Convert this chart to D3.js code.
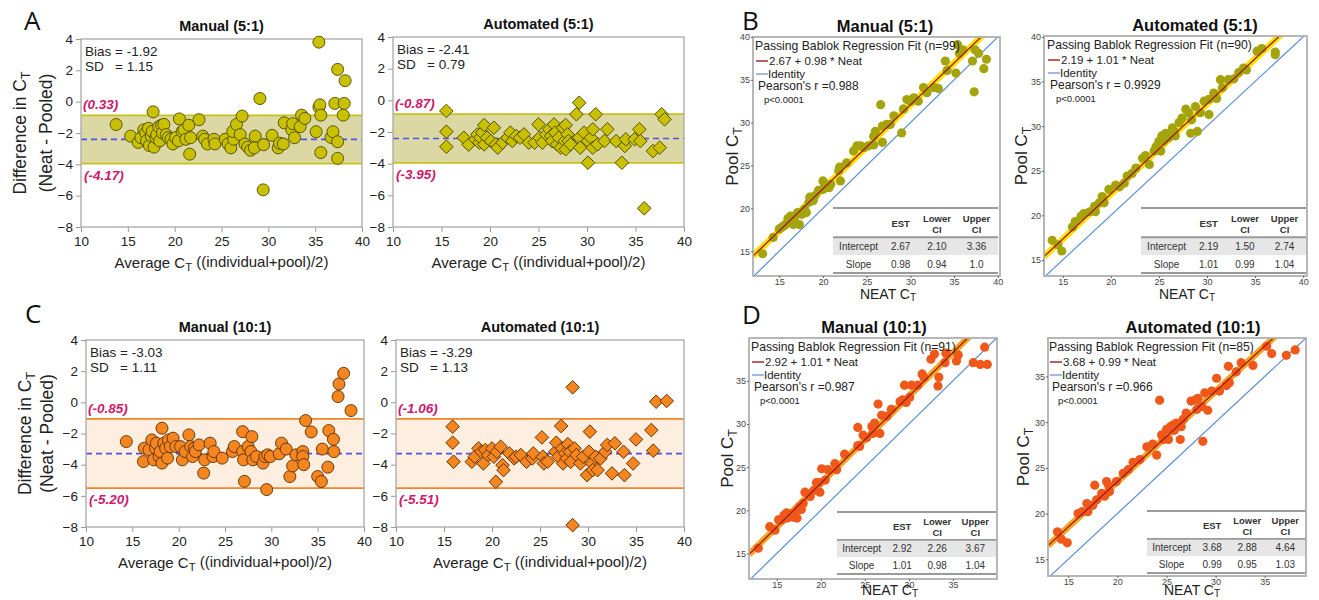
<!DOCTYPE html>
<html>
<head>
<meta charset="utf-8">
<script src="https://cdn.jsdelivr.net/npm/d3@7"></script>
<style>
body { margin: 0; background: #fff; }
svg { font-family: "Liberation Sans", Arial, sans-serif; }
</style>
</head>
<body>
<svg id="fig" width="1319" height="600"></svg>
<script>
// ---- data ----
var baXTicks = [10, 15, 20, 25, 30, 35, 40];
var baYTicks = [4, 2, 0, -2, -4, -6, -8];

// Bland-Altman: [average Ct, difference]
var manual5Diff = [[13.75,-1.46],[15.3,-2.2],[16.1,-2.6],[16.4,-2.3],[16.7,-1.8],[16.9,-2.0],[17.0,-2.5],[17.2,-1.7],[17.3,-2.8],[17.5,-2.2],[17.6,-1.9],[17.7,-0.65],[17.8,-2.9],[18.0,-2.3],[18.1,-2.1],[18.3,-1.6],[18.4,-2.5],[18.6,-1.5],[18.7,-2.0],[18.85,-1.45],[19.1,-2.1],[19.3,-2.3],[19.6,-2.4],[19.8,-2.7],[20.1,-2.3],[20.4,-2.5],[20.5,-1.1],[20.8,-1.9],[21.0,-1.8],[21.2,-2.4],[21.5,-1.5],[21.6,-3.35],[21.7,-2.3],[22.6,-1.15],[23.0,-2.2],[23.2,-2.4],[23.5,-2.7],[24.2,-2.4],[24.3,-2.7],[25.4,-2.4],[25.7,-2.7],[26.0,-2.95],[26.3,-2.4],[26.2,-1.9],[26.6,-1.45],[27.2,-0.92],[27.0,-2.1],[27.5,-2.7],[27.8,-2.9],[28.1,-3.1],[28.6,-2.2],[28.5,-2.95],[29.1,0.2],[29.5,-2.75],[29.45,-5.63],[30.4,-2.15],[31.05,-2.95],[31.2,-2.65],[31.6,-2.7],[31.7,-1.35],[32.5,-1.8],[32.6,-1.4],[32.8,-2.3],[33.4,-1.6],[33.55,-0.86],[33.9,-1.07],[35.1,-1.92],[35.4,-0.35],[35.5,-0.2],[35.6,-0.86],[35.6,-3.25],[35.4,3.8],[36.7,-2.28],[36.9,-1.92],[37.1,-0.11],[37.4,2.06],[37.4,-2.56],[37.4,-3.62],[38.0,-0.86],[38.1,-0.11],[38.2,1.34]];
var auto5Diff = [[15.5,-0.67],[15.5,-1.98],[15.5,-2.93],[17.3,-2.36],[17.8,-2.8],[18.5,-2.46],[18.7,-2.15],[18.9,-2.67],[19.0,-2.36],[19.2,-2.04],[19.4,-1.56],[19.4,-2.78],[19.7,-2.36],[20.1,-2.57],[20.4,-1.73],[20.6,-2.78],[20.8,-2.99],[21.3,-2.67],[21.8,-2.36],[22.1,-2.04],[22.3,-2.57],[22.7,-2.25],[23.1,-2.36],[23.5,-2.15],[24.0,-2.67],[24.6,-2.67],[25.0,-1.52],[25.1,-2.36],[25.4,-2.67],[25.8,-2.15],[26.1,-1.83],[26.3,-2.25],[26.4,-2.57],[26.6,-1.52],[26.7,-2.04],[26.9,-2.78],[27.1,-2.36],[27.3,-2.99],[27.5,-1.73],[27.7,-2.57],[27.8,-1.56],[27.8,-3.09],[28.0,-2.15],[28.1,-2.57],[28.3,-2.78],[28.9,-0.88],[29.2,-0.15],[29.2,-2.36],[29.3,-2.99],[29.7,-2.04],[30.1,-2.57],[30.1,-3.94],[30.4,-2.36],[30.6,-1.83],[30.6,-2.99],[30.9,-0.88],[31.1,-2.78],[31.8,-2.57],[32.1,-1.83],[33.0,-2.57],[33.6,-3.94],[33.9,-2.88],[34.0,-2.46],[34.9,-2.46],[35.4,-1.83],[35.5,-2.57],[35.9,-6.82],[36.8,-3.2],[37.5,-2.99],[37.7,-0.88],[38.0,-1.2]];
var manual10Diff = [[14.35,-2.52],[16.2,-3.8],[16.3,-2.94],[16.8,-3.05],[17.1,-2.41],[17.3,-3.69],[17.5,-2.94],[17.6,-2.62],[17.9,-3.48],[18.0,-3.16],[18.2,-1.66],[18.2,-3.9],[18.4,-2.62],[18.6,-2.94],[18.8,-3.58],[18.9,-2.41],[19.1,-2.84],[19.4,-2.3],[19.7,-2.84],[20.2,-2.84],[20.4,-3.69],[20.7,-3.16],[21.1,-2.09],[21.3,-2.84],[21.5,-3.48],[21.7,-2.94],[21.8,-3.16],[22.2,-2.73],[22.7,-4.54],[22.8,-3.69],[23.4,-2.62],[23.7,-3.48],[23.8,-3.16],[24.7,-3.58],[25.8,-3.16],[26.0,-2.84],[26.9,-1.88],[26.9,-3.16],[27.0,-3.69],[27.1,-5.07],[27.5,-2.84],[27.8,-3.16],[27.9,-2.2],[28.0,-3.69],[28.4,-3.48],[29.1,-3.9],[29.3,-3.48],[29.5,-5.6],[29.6,-3.37],[29.9,-3.48],[30.85,-3.3],[31.1,-2.62],[31.6,-3.0],[32.0,-4.76],[32.3,-4.08],[32.65,-3.37],[33.4,-3.16],[33.4,-3.48],[33.5,-4.0],[33.7,-1.17],[34.3,-1.9],[35.0,-4.76],[35.4,-5.08],[35.5,-3.0],[36.1,-4.16],[36.2,-1.81],[36.7,-2.37],[36.75,-3.16],[37.2,0.37],[37.3,1.18],[37.8,1.86],[38.6,-0.53]];
var auto10Diff = [[15.9,-1.56],[15.9,-2.59],[16.0,-3.81],[17.9,-3.81],[18.2,-3.49],[18.6,-2.96],[18.9,-3.17],[19.1,-3.92],[19.3,-3.06],[19.6,-3.38],[20.0,-2.96],[20.2,-3.49],[20.4,-5.1],[20.5,-3.17],[20.9,-2.85],[21.1,-4.03],[21.2,-4.35],[21.8,-3.28],[22.3,-3.6],[22.5,-3.49],[23.0,-3.38],[23.6,-3.81],[24.2,-3.6],[24.3,-3.28],[25.2,-2.25],[25.3,-3.49],[25.4,-3.92],[25.8,-3.81],[26.6,-3.17],[26.7,-2.59],[26.9,-3.49],[27.2,-1.52],[27.3,-2.96],[27.4,-3.92],[27.6,-3.28],[27.8,-3.6],[27.9,-2.68],[28.1,-3.17],[28.2,-3.81],[28.4,0.96],[28.4,-7.88],[28.6,-2.96],[28.8,-3.38],[29.2,-3.92],[29.5,-3.49],[29.9,-4.67],[30.1,-3.17],[30.2,-1.88],[30.4,-3.92],[30.5,-4.35],[30.8,-3.49],[31.0,-4.35],[31.3,-3.6],[31.8,-3.17],[32.0,-2.74],[32.5,-4.56],[32.8,-2.63],[33.7,-3.17],[33.8,-4.67],[34.7,-3.92],[35.0,-2.38],[36.6,-1.78],[36.8,-3.1],[37.1,0.04],[38.2,0.09]];

var baTitles = ["Manual (5:1)", "Automated (5:1)", "Manual (10:1)", "Automated (10:1)"];
var baBias = ["-1.92", "-2.41", "-3.03", "-3.29"];
var baSD = ["1.15", "0.79", "1.11", "1.13"];
var baUpperLabel = ["(0.33)", "(-0.87)", "(-0.85)", "(-1.06)"];
var baLowerLabel = ["(-4.17)", "(-3.95)", "(-5.20)", "(-5.51)"];
// band edges and mean line as drawn: [upper, lower, mean]
var baBand = [[-0.87, -3.95, -2.41], [-0.87, -3.95, -2.41], [-1.06, -5.51, -3.29], [-1.06, -5.51, -3.29]];

// Passing-Bablok: [neat Ct, pool Ct]
var manual5Pool = [[13.1,14.7],[14.3,16.6],[15.0,17.6],[15.3,17.8],[15.6,18.0],[15.8,18.2],[16.0,18.8],[16.2,18.4],[16.3,19.1],[16.6,18.1],[16.8,19.0],[17.1,19.5],[17.3,18.1],[17.6,19.3],[17.9,19.9],[18.1,19.5],[18.4,20.7],[18.5,21.3],[18.9,20.9],[19.1,21.5],[19.5,22.1],[20.0,23.2],[20.0,22.2],[20.2,22.6],[20.7,22.4],[20.9,22.8],[22.0,23.2],[21.8,24.4],[21.9,24.8],[22.7,25.3],[23.5,26.7],[23.9,27.3],[24.3,27.3],[24.7,27.1],[25.2,27.3],[25.8,28.4],[26.0,29.0],[25.8,27.4],[26.6,32.1],[26.8,29.6],[26.8,27.7],[27.3,29.8],[27.7,29.8],[28.1,30.8],[29.0,28.8],[29.2,31.6],[29.6,32.7],[30.0,32.5],[30.4,32.9],[30.9,32.5],[31.5,34.1],[31.9,33.5],[32.7,34.1],[33.2,34.0],[34.0,37.2],[34.2,36.1],[35.2,35.8],[35.4,39.1],[35.6,38.1],[36.0,38.5],[37.1,37.2],[37.3,33.6],[37.4,38.5],[37.8,38.1],[38.4,36.3],[38.7,37.4]];
var auto5Pool = [[13.9,17.2],[14.5,16.7],[14.9,16.0],[16.0,18.7],[16.3,19.3],[16.9,19.9],[17.2,20.2],[17.8,20.4],[18.3,21.0],[18.4,20.4],[18.8,21.4],[19.1,22.1],[19.3,21.4],[19.8,22.9],[20.5,23.4],[20.9,23.2],[21.4,23.6],[21.7,24.4],[22.2,24.7],[22.6,25.3],[23.3,26.4],[23.6,26.7],[24.0,25.7],[24.5,27.2],[24.7,27.7],[25.0,28.3],[25.2,27.2],[25.3,28.9],[25.5,28.3],[25.7,29.2],[26.0,28.7],[26.4,29.8],[26.6,29.4],[26.7,28.9],[27.1,30.4],[27.4,30.9],[27.8,31.9],[28.1,31.5],[28.3,29.2],[28.4,30.7],[28.8,32.2],[29.0,29.4],[29.3,31.5],[29.7,32.8],[30.2,33.0],[30.2,31.3],[30.7,33.7],[31.0,33.1],[31.4,35.2],[31.6,34.3],[32.2,35.2],[32.8,35.3],[33.3,36.0],[33.8,36.5],[34.1,36.3],[35.2,38.4],[35.7,38.7],[37.1,38.3],[37.1,38.0]];
var manual10Pool = [[12.9,15.6],[14.2,18.1],[14.8,17.7],[15.2,18.9],[15.6,18.9],[15.8,19.4],[16.1,19.7],[16.2,19.1],[16.5,19.6],[16.9,19.2],[17.3,20.0],[17.3,19.1],[17.6,20.4],[17.8,20.1],[18.0,20.8],[18.2,22.1],[18.6,21.9],[18.8,21.6],[19.2,22.3],[19.5,23.2],[19.8,23.2],[19.9,22.1],[20.1,24.8],[20.5,23.5],[20.8,24.7],[21.6,25.4],[21.8,24.7],[22.7,26.5],[24.2,29.6],[24.2,27.5],[24.4,27.4],[24.8,28.7],[25.2,28.4],[25.8,29.7],[25.9,28.9],[26.1,30.1],[26.5,32.3],[26.7,28.9],[26.9,31.0],[27.5,30.9],[28.0,31.7],[29.0,32.6],[29.3,32.8],[29.5,34.5],[29.7,32.5],[30.1,33.1],[30.3,34.5],[31.0,34.5],[31.5,35.8],[31.7,35.4],[32.5,37.5],[32.9,38.1],[33.3,34.4],[33.4,35.4],[34.1,37.1],[34.2,38.2],[35.4,37.3],[35.6,38.0],[37.3,37.1],[38.1,36.9],[38.6,38.9],[38.9,36.9]];
var auto10Pool = [[13.9,18.0],[14.3,17.2],[14.9,16.8],[16.0,20.0],[16.4,20.2],[16.9,21.1],[17.0,20.2],[17.5,20.9],[17.7,23.1],[17.9,21.5],[18.4,22.2],[18.7,21.9],[18.9,23.5],[19.1,23.1],[19.2,22.4],[19.9,23.5],[20.6,24.4],[21.1,24.8],[21.6,25.6],[22.3,25.9],[23.0,27.3],[23.6,27.6],[24.0,26.4],[24.3,32.4],[24.5,28.6],[24.7,28.1],[25.0,29.2],[25.2,28.1],[25.4,29.5],[25.7,29.7],[25.8,29.1],[26.0,29.9],[26.4,28.1],[26.5,29.5],[26.7,30.3],[27.0,31.0],[27.5,32.3],[27.9,32.4],[28.1,31.4],[28.2,32.6],[28.6,31.7],[28.7,27.9],[28.9,33.2],[29.2,31.3],[29.6,33.4],[30.1,34.8],[30.4,33.4],[31.1,34.0],[31.3,36.1],[31.4,34.3],[32.1,35.5],[32.6,36.5],[33.8,36.2],[35.2,38.3],[35.7,37.5],[37.2,37.3],[38.1,37.9]];

var pbTitles = ["Manual (5:1)", "Automated (5:1)", "Manual (10:1)", "Automated (10:1)"];
var pbN = [99, 90, 91, 85];
var pbPearson = ["Pearson's r =0.988", "Pearson's r = 0.9929", "Pearson's r =0.987", "Pearson's r =0.966"];
var interceptEst = ["2.67", "2.19", "2.92", "3.68"];
var interceptLower = ["2.10", "1.50", "2.26", "2.88"];
var interceptUpper = ["3.36", "2.74", "3.67", "4.64"];
var slopeEst = ["0.98", "1.01", "1.01", "0.99"];
var slopeLower = ["0.94", "0.99", "0.98", "0.95"];
var slopeUpper = ["1.0", "1.04", "1.04", "1.03"];

var svg = d3.select("#fig");

function sub(sel, main, s, shift) {
	sel.append("tspan").text(main);
	sel.append("tspan").attr("font-size", "72%").attr("dy", shift || "0.32em").text(s);
}

// ---- Bland-Altman panel ----
function baPanel(o, i) {
	var x = d3.scaleLinear().domain([10, 40]).range([o.l, o.r]);
	var y = d3.scaleLinear().domain([-8, 4]).range([o.b, o.t]);
	var band = baBand[i];
	var g = svg.append("g");

	g.append("rect")
		.attr("x", o.l).attr("y", y(band[0]))
		.attr("width", o.r - o.l).attr("height", y(band[1]) - y(band[0]))
		.attr("fill", o.bandFill);
	g.selectAll(".lim").data(band.slice(0, 2)).enter().append("line")
		.attr("x1", o.l).attr("x2", o.r)
		.attr("y1", function (d) { return y(d); })
		.attr("y2", function (d) { return y(d); })
		.attr("stroke", o.bandLine).attr("stroke-width", 1.8);
	g.append("line")
		.attr("x1", o.l).attr("x2", o.r)
		.attr("y1", y(band[2])).attr("y2", y(band[2]))
		.attr("stroke", "#5050ee").attr("stroke-width", 1.6)
		.attr("stroke-dasharray", "6,4");

	// axes
	var ax = g.append("g").attr("transform", "translate(0," + o.b + ")")
		.call(d3.axisBottom(x).tickValues(baXTicks).tickSize(5).tickPadding(4));
	var ay = g.append("g").attr("transform", "translate(" + o.l + ",0)")
		.call(d3.axisLeft(y).tickValues(baYTicks).tickSize(5).tickPadding(3));
	[ax, ay].forEach(function (a) {
		a.select(".domain").remove();
		a.selectAll("line").attr("stroke", "#9a9a9a");
		a.selectAll("text").attr("fill", "#222").style("font-size", "13.5px")
			.style("font-family", "Liberation Sans, Arial, sans-serif");
	});
	g.append("rect").attr("x", o.l).attr("y", o.t)
		.attr("width", o.r - o.l).attr("height", o.b - o.t)
		.attr("fill", "none").attr("stroke", "#a8a8a8").attr("stroke-width", 1.3);

	// points
	var pts = g.selectAll(".pt").data(o.data).enter();
	if (o.shape === "diamond") {
		pts.append("path")
			.attr("d", d3.symbol().type(d3.symbolSquare).size(92))
			.attr("transform", function (d) { return "translate(" + x(d[0]) + "," + y(d[1]) + ") rotate(45)"; })
			.attr("fill", o.fill).attr("stroke", o.stroke).attr("stroke-width", 0.9);
	} else {
		pts.append("circle")
			.attr("cx", function (d) { return x(d[0]); })
			.attr("cy", function (d) { return y(d[1]); })
			.attr("r", 6)
			.attr("fill", o.fill).attr("stroke", o.stroke).attr("stroke-width", 0.9);
	}

	// texts
	g.append("text").attr("x", (o.l + o.r) / 2).attr("y", o.t - 8)
		.attr("text-anchor", "middle").attr("font-weight", "bold").attr("font-size", 14.5)
		.attr("fill", "#111").text(baTitles[i]);
	g.append("text").attr("x", o.l + 4).attr("y", o.t + 17).attr("font-size", 13.5).attr("fill", "#222")
		.text("Bias = " + baBias[i]);
	g.append("text").attr("x", o.l + 4).attr("y", o.t + 32).attr("font-size", 13.5).attr("fill", "#222")
		.style("white-space", "pre").text("SD   = " + baSD[i]);
	g.append("text").attr("x", o.l + 2).attr("y", y(band[0]) - 6)
		.attr("font-size", 13.5).attr("font-weight", "bold").attr("font-style", "italic")
		.attr("fill", "#d0186a").text(baUpperLabel[i]);
	g.append("text").attr("x", o.l + 3).attr("y", y(band[1]) + 16)
		.attr("font-size", 13.5).attr("font-weight", "bold").attr("font-style", "italic")
		.attr("fill", "#d0186a").text(baLowerLabel[i]);

	var xl = g.append("text").attr("x", (o.l + o.r) / 2).attr("y", o.b + 41)
		.attr("text-anchor", "middle").attr("font-size", 15).attr("fill", "#222");
	xl.append("tspan").text("Average C");
	xl.append("tspan").attr("font-size", "75%").attr("dy", "0.3em").text("T");
	xl.append("tspan").attr("dy", "-0.3em").text(" ((individual+pool)/2)");

	if (o.ylab) {
		var cy = (o.t + o.b) / 2;
		var l1 = g.append("text").attr("transform", "translate(" + o.ylab[0] + "," + cy + ") rotate(-90)")
			.attr("text-anchor", "middle").attr("dy", "0.35em").attr("font-size", 17.5).attr("fill", "#222");
		sub(l1, "Difference in C", "T");
		g.append("text").attr("transform", "translate(" + o.ylab[1] + "," + cy + ") rotate(-90)")
			.attr("text-anchor", "middle").attr("dy", "0.35em").attr("font-size", 17.5).attr("fill", "#222")
			.text("(Neat - Pooled)");
	}
}

// ---- Passing-Bablok panel ----
function pbPanel(o, i) {
	var x = d3.scaleLinear().domain(o.xd).range([o.l, o.r]);
	var y = d3.scaleLinear().domain(o.yd).range([o.b, o.t]);
	var a = +interceptEst[i], b = +slopeEst[i];
	var g = svg.append("g");

	g.append("clipPath").attr("id", "clip" + i).append("rect")
		.attr("x", o.l).attr("y", o.t).attr("width", o.r - o.l).attr("height", o.b - o.t);
	var inner = g.append("g").attr("clip-path", "url(#clip" + i + ")");

	var lo = Math.min(o.xd[0], o.yd[0]), hi = Math.max(o.xd[1], o.yd[1]);
	inner.append("line")
		.attr("x1", x(lo)).attr("y1", y(lo)).attr("x2", x(hi)).attr("y2", y(hi))
		.attr("stroke", "#5b8ed6").attr("stroke-width", 1.2);
	var fit = function (v) { return a + b * v; };
	inner.append("line")
		.attr("x1", x(o.xd[0])).attr("y1", y(fit(o.xd[0])))
		.attr("x2", x(o.xd[1])).attr("y2", y(fit(o.xd[1])))
		.attr("stroke", o.bandCol).attr("stroke-width", 6.5);
	inner.selectAll(".pt").data(o.data).enter().append("circle")
		.attr("cx", function (d) { return x(d[0]); })
		.attr("cy", function (d) { return y(d[1]); })
		.attr("r", 4.6).attr("fill", o.fill);
	inner.append("line")
		.attr("x1", x(o.xd[0])).attr("y1", y(fit(o.xd[0])))
		.attr("x2", x(o.xd[1])).attr("y2", y(fit(o.xd[1])))
		.attr("stroke", "#9e1a1a").attr("stroke-width", 1.3);

	// table
	var tw = o.tr - o.tl, th = o.tb - o.tt, hh = th * 0.45, rh = (th - hh) / 2;
	var cols = [0.155, 0.41, 0.63, 0.87].map(function (f) { return o.tl + f * tw; });
	g.append("rect").attr("x", o.tl).attr("y", o.tt).attr("width", tw).attr("height", o.b - o.tt).attr("fill", "#fff");
	g.append("rect").attr("x", o.tl).attr("y", o.tt + hh).attr("width", tw).attr("height", rh).attr("fill", "#e6e6e6");
	g.selectAll(".tl").data([o.tt, o.tt + hh, o.tb]).enter().append("line")
		.attr("x1", o.tl).attr("x2", o.tr)
		.attr("y1", function (d) { return d; }).attr("y2", function (d) { return d; })
		.attr("stroke", "#9a9a9a").attr("stroke-width", 1.8);
	var hd = g.append("g").attr("font-size", 9.5).attr("font-weight", "bold").attr("fill", "#333").attr("text-anchor", "middle");
	hd.append("text").attr("x", cols[1]).attr("y", o.tt + hh / 2 + 4).text("EST");
	[["Lower", "CI"], ["Upper", "CI"]].forEach(function (h, k) {
		hd.append("text").attr("x", cols[k + 2]).attr("y", o.tt + hh / 2 - 1).text(h[0]);
		hd.append("text").attr("x", cols[k + 2]).attr("y", o.tt + hh / 2 + 10).text(h[1]);
	});
	var rows = [["Intercept", interceptEst[i], interceptLower[i], interceptUpper[i]],
		["Slope", slopeEst[i], slopeLower[i], slopeUpper[i]]];
	rows.forEach(function (r, k) {
		g.selectAll(".c" + k).data(r).enter().append("text")
			.attr("x", function (d, j) { return cols[j]; })
			.attr("y", o.tt + hh + rh * k + rh / 2 + 3.5)
			.attr("text-anchor", "middle").attr("font-size", 10).attr("fill", "#333")
			.text(function (d) { return d; });
	});

	g.append("rect").attr("x", o.l).attr("y", o.t).attr("width", o.r - o.l).attr("height", o.b - o.t)
		.attr("fill", "none").attr("stroke", "#b0b0b0").attr("stroke-width", 1.8);

	var ax = g.append("g").attr("transform", "translate(0," + o.b + ")")
		.call(d3.axisBottom(x).tickValues(o.xt).tickSize(2).tickPadding(1));
	var ay = g.append("g").attr("transform", "translate(" + o.l + ",0)")
		.call(d3.axisLeft(y).tickValues(o.yt).tickSize(2).tickPadding(1));
	[ax, ay].forEach(function (s) {
		s.select(".domain").remove();
		s.selectAll("line").attr("stroke", "#666");
		s.selectAll("text").attr("fill", "#444").style("font-size", "9px")
			.style("font-family", "Liberation Sans, Arial, sans-serif");
	});

	// titles
	g.append("text").attr("x", o.tx).attr("y", o.t - 5).attr("text-anchor", "middle")
		.attr("font-weight", "bold").attr("font-size", 16.5).attr("fill", "#111").text(pbTitles[i]);
	var yl = g.append("text").attr("transform", "translate(" + o.yx + "," + (o.t + o.b) / 2 + ") rotate(-90)")
		.attr("text-anchor", "middle").attr("font-size", 17).attr("fill", "#222");
	sub(yl, o.ytext, "T");
	var xl = g.append("text").attr("x", o.xx).attr("y", o.xy).attr("text-anchor", "middle")
		.attr("font-size", 14).attr("fill", "#222");
	sub(xl, "NEAT C", "T", "0.22em");

	// legend
	var lx = o.lx, ly = o.t + 13;
	var lg = g.append("g").attr("font-size", 11.5).attr("fill", "#222");
	lg.append("text").attr("x", lx).attr("y", ly).attr("font-size", 12.2)
		.text("Passing Bablok Regression Fit (n=" + pbN[i] + ")");
	lg.append("line").attr("x1", lx + 1).attr("x2", lx + 13).attr("y1", ly + 11).attr("y2", ly + 11)
		.attr("stroke", "#9e1a1a").attr("stroke-width", 1.4);
	lg.append("text").attr("x", lx + 14).attr("y", ly + 15).text(interceptEst[i] + " + " + slopeEst[i] + " * Neat");
	lg.append("line").attr("x1", lx + 1).attr("x2", lx + 13).attr("y1", ly + 24).attr("y2", ly + 24)
		.attr("stroke", "#5b8ed6").attr("stroke-width", 1.2);
	lg.append("text").attr("x", lx + 13).attr("y", ly + 28).text("Identity");
	lg.append("text").attr("x", lx + 3).attr("y", ly + 40).attr("font-size", 12).text(pbPearson[i]);
	lg.append("text").attr("x", lx + 9).attr("y", ly + 53).attr("font-size", 9.5).text("p<0.0001");
}

var olive = { fill: "#c9c100", stroke: "#4d4800", bandFill: "#dbd8a4", bandLine: "#c8c218" };
var orange = { fill: "#f5861f", stroke: "#5a2f00", bandFill: "#fdeee0", bandLine: "#f3842a" };

baPanel(Object.assign({ l: 81, r: 362, t: 39, b: 227, data: manual5Diff, shape: "circle", ylab: [20, 46] }, olive), 0);
baPanel(Object.assign({ l: 393, r: 684, t: 37, b: 227, data: auto5Diff, shape: "diamond" }, olive), 1);
baPanel(Object.assign({ l: 86, r: 364, t: 340, b: 527, data: manual10Diff, shape: "circle", ylab: [25, 47] }, orange), 2);
baPanel(Object.assign({ l: 396, r: 684, t: 340, b: 527, data: auto10Diff, shape: "diamond" }, orange), 3);

pbPanel({ l: 753, r: 1000, t: 37, b: 276, xd: [12, 40.25], yd: [12.1, 40], xt: [15, 20, 25, 30, 35, 40], yt: [15, 20, 25, 30, 35, 40],
	data: manual5Pool, fill: "#a5a30c", bandCol: "#ffe100", tl: 833, tr: 998, tt: 208, tb: 273,
	tx: 885, yx: 738, xx: 888, xy: 299, ytext: "Pool C", lx: 755 }, 0);
pbPanel({ l: 1044, r: 1307, t: 36, b: 276, xd: [13.05, 40.4], yd: [13.2, 40.1], xt: [15, 20, 25, 30, 35, 40], yt: [15, 20, 25, 30, 35, 40],
	data: auto5Pool, fill: "#a5a30c", bandCol: "#ffe100", tl: 1141, tr: 1306, tt: 208, tb: 273,
	tx: 1195, yx: 1027, xx: 1187, xy: 299, ytext: "Pool C", lx: 1047 }, 1);
pbPanel({ l: 749, r: 997, t: 338, b: 579, xd: [11.85, 40], yd: [12.04, 39.96], xt: [15, 20, 25, 30, 35], yt: [15, 20, 25, 30, 35],
	data: manual10Pool, fill: "#f0581a", bandCol: "#f7a41d", tl: 837, tr: 996, tt: 512, tb: 574,
	tx: 874, yx: 733, xx: 890, xy: 595, ytext: "Pool C", lx: 751 }, 2);
pbPanel({ l: 1048, r: 1306, t: 338, b: 576, xd: [12.94, 39.2], yd: [13.17, 39.2], xt: [15, 20, 25, 30, 35], yt: [15, 20, 25, 30, 35],
	data: auto10Pool, fill: "#f0581a", bandCol: "#f7a41d", tl: 1147, tr: 1306, tt: 511, tb: 573,
	tx: 1193, yx: 1029, xx: 1192, xy: 595, ytext: "Pool  C", lx: 1049 }, 3);

// panel letters
svg.selectAll(".letter").data([["A", 24, 30], ["B", 742, 30], ["C", 25, 323], ["D", 742, 324]])
	.enter().append("text")
	.attr("x", function (d) { return d[1]; }).attr("y", function (d) { return d[2]; })
	.attr("font-size", 26).attr("fill", "#111")
	.style("font-family", "'Open Sans', 'Liberation Sans', sans-serif")
	.text(function (d) { return d[0]; });
</script>
</body>
</html>
